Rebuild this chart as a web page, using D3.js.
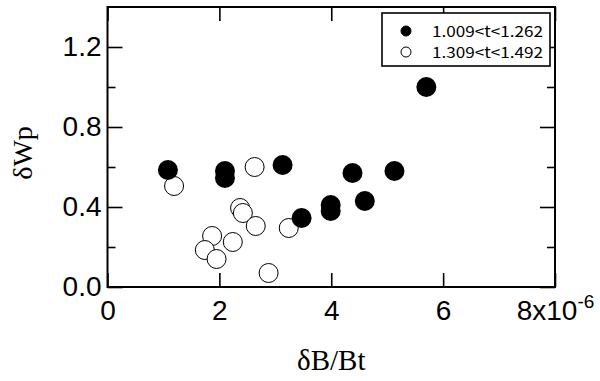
<!DOCTYPE html>
<html>
<head>
<meta charset="utf-8">
<script src="https://cdn.jsdelivr.net/npm/d3@7"></script>
<style>
  body { margin: 0; background: #fff; }
  svg { display: block; }
</style>
</head>
<body>
<div id="chart"></div>
<script>
// data, x in units of 1e-6
const filledX = [1.08, 2.10, 2.10, 3.13, 3.47, 3.99, 3.99, 4.38, 4.60, 5.13, 5.70];
const filledY = [0.585, 0.58, 0.545, 0.61, 0.345, 0.41, 0.38, 0.57, 0.43, 0.58, 1.00];
const openX = [1.19, 1.87, 1.74, 1.95, 2.24, 2.37, 2.42, 2.63, 2.65, 2.88, 3.24];
const openY = [0.505, 0.255, 0.185, 0.14, 0.225, 0.395, 0.37, 0.60, 0.305, 0.07, 0.295];
const xTicks = [0, 2, 4, 6, 8];
const yTicks = [0, 0.4, 0.8, 1.2];
const yMinor = [0.2, 0.6, 1.0];
const legendLabels = ["1.009<t<1.262", "1.309<t<1.492"];

const width = 600, height = 381;
const margin = {top: 7, right: 45, bottom: 94, left: 107.5};

const svg = d3.select('#chart').append('svg')
  .attr('width', width)
  .attr('height', height);

const x = d3.scaleLinear().domain([0, 8]).range([margin.left, width - margin.right]);
const y = d3.scaleLinear().domain([0, 1.4]).range([height - margin.bottom, margin.top]);

const fontSans = "'Liberation Sans', Arial, sans-serif";
const fontSerif = "'Liberation Serif', 'Times New Roman', serif";

// axes, ticks pointing inward
svg.append('g').attr('transform', 'translate(' + x(0) + ',0)')
  .call(d3.axisLeft(y).tickValues(yTicks).tickSize(-15).tickPadding(6).tickFormat(d3.format('.1f')));
svg.append('g').attr('transform', 'translate(' + x(0) + ',0)')
  .call(d3.axisLeft(y).tickValues(yMinor).tickSize(-8).tickFormat(''));
svg.append('g').attr('transform', 'translate(' + x(8) + ',0)')
  .call(d3.axisRight(y).tickValues(yTicks).tickSize(-15).tickFormat(''));
svg.append('g').attr('transform', 'translate(' + x(8) + ',0)')
  .call(d3.axisRight(y).tickValues(yMinor).tickSize(-8).tickFormat(''));

let gBottom = svg.append('g').attr('transform', 'translate(0,' + y(0) + ')')
  .call(d3.axisBottom(x).tickValues(xTicks).tickSize(-14).tickPadding(13).tickFormat(d => d === 8 ? '' : d));
svg.append('g').attr('transform', 'translate(0,' + y(1.4) + ')')
  .call(d3.axisTop(x).tickValues(xTicks).tickSize(-14).tickFormat(''));

svg.selectAll('.domain').remove();
svg.selectAll('.tick line').attr('stroke', '#000').attr('stroke-width', 1.6);
svg.selectAll('.tick text').attr('fill', '#000').style('font-family', fontSans).style('font-size', '28px');

// last x label with exponent
let lastTick = gBottom.selectAll('.tick').filter(d => d === 8).select('text');
lastTick.append('tspan').text('8x10');
lastTick.append('tspan').attr('dy', '-0.62em').style('font-size', '19px').text('-6');

// frame
svg.append('rect')
  .attr('x', x(0)).attr('y', y(1.4))
  .attr('width', x(8) - x(0)).attr('height', y(0) - y(1.4))
  .attr('fill', 'none').attr('stroke', '#000').attr('stroke-width', 2);

// points
svg.append('g').selectAll('circle')
  .data(openX.map((v, i) => [v, openY[i]]))
  .enter().append('circle')
  .attr('cx', d => x(d[0])).attr('cy', d => y(d[1])).attr('r', 9.5)
  .attr('fill', '#fff').attr('stroke', '#000').attr('stroke-width', 1);

svg.append('g').selectAll('circle')
  .data(filledX.map((v, i) => [v, filledY[i]]))
  .enter().append('circle')
  .attr('cx', d => x(d[0])).attr('cy', d => y(d[1])).attr('r', 10)
  .attr('fill', '#000');

// axis titles
svg.append('text')
  .attr('x', (x(0) + x(8)) / 2).attr('y', 370)
  .attr('text-anchor', 'middle')
  .style('font-family', fontSerif).style('font-size', '29px')
  .text('δB/Bt');

svg.append('text')
  .attr('transform', 'translate(32,153) rotate(-90)')
  .attr('text-anchor', 'middle')
  .style('font-family', fontSerif).style('font-size', '28px')
  .text('δWp');

// legend
const legend = svg.append('g');
legend.append('rect')
  .attr('x', 382).attr('y', 13).attr('width', 168).attr('height', 53)
  .attr('fill', '#fff').attr('stroke', '#000').attr('stroke-width', 1.6);

let items = legend.selectAll('.legends').data(legendLabels).enter()
  .append('g').classed('legends', true)
  .attr('transform', (d, i) => 'translate(406,' + (31 + i * 21) + ')');
items.append('circle').attr('r', 5)
  .attr('fill', (d, i) => i === 0 ? '#000' : '#fff')
  .attr('stroke', '#000').attr('stroke-width', 1);
items.append('text').text(d => d)
  .attr('x', 26).attr('y', 5.5)
  .attr('textLength', 111).attr('lengthAdjust', 'spacingAndGlyphs')
  .style('font-family', "'Noto Sans CJK JP', sans-serif").style('font-size', '15px');
</script>
</body>
</html>
